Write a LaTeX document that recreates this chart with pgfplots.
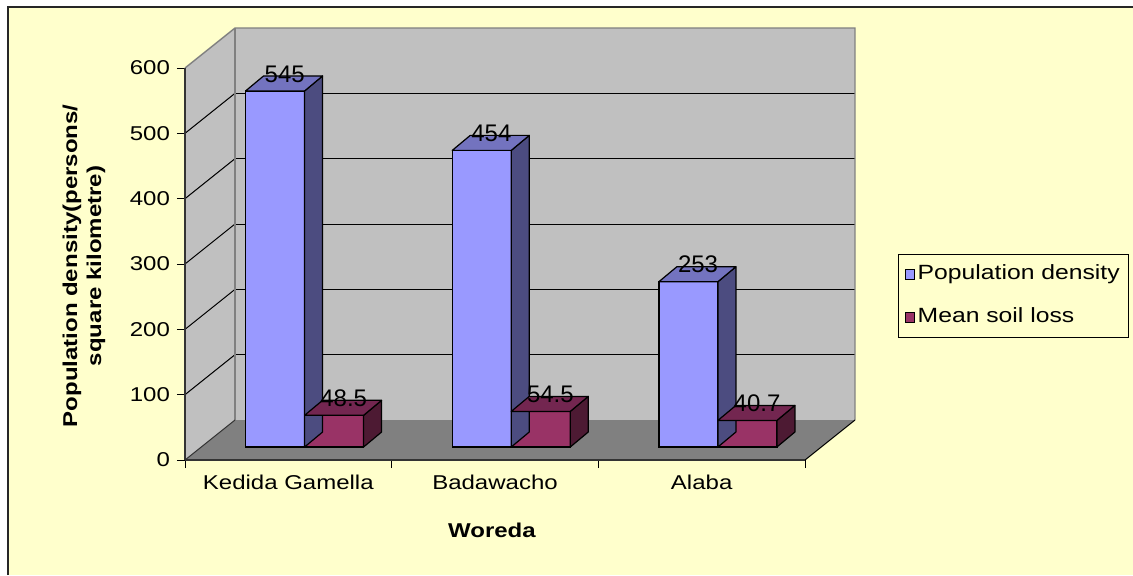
\documentclass[border=0pt]{standalone}
\usepackage{fontspec}
\setmainfont{Liberation Sans}[FakeStretch=1.2]
\newfontfamily\lblfont{Liberation Sans}
\usepackage{pgfplots}
\usepackage{pgfplotstable}
\pgfplotsset{compat=1.18}
\definecolor{bgyellow}{HTML}{FFFFCC}
\definecolor{wallgray}{HTML}{C0C0C0}
\definecolor{floorgray}{HTML}{808080}
\definecolor{bluefront}{HTML}{9999FF}
\definecolor{blueside}{HTML}{4C4C80}
\definecolor{bluetop}{HTML}{7373BF}
\definecolor{redfront}{HTML}{993366}
\definecolor{redside}{HTML}{4D1A33}
\definecolor{redtop}{HTML}{732650}
\pgfdeclareplotmark{none3d}{}
\pgfplotstableread{
x   pop  soil
0.5 545  48.5
1.5 454  54.5
2.5 253  40.7
}\data
\pgfplotsset{
  box3d/.style n args={3}{
    scatter, only marks, mark=none3d,
    visualization depends on={rawy \as \val},
    scatter/@pre marker code/.code={%
      \pgfmathsetmacro\bxh{\val*0.3266667}%
      \filldraw[fill=#2, draw=black, line width=0.6pt, line join=round]
        (#1+14.75pt,0pt) -- ++(9pt,7.5pt) -- ++(0pt,-\bxh pt) -- ++(-9pt,-7.5pt) -- cycle;
      \filldraw[fill=#3, draw=black, line width=0.6pt, line join=round]
        (#1-14.75pt,0pt) -- ++(9pt,7.5pt) -- ++(29.5pt,0pt) -- ++(-9pt,-7.5pt) -- cycle;
      \node[font=\lblfont\fontsize{12}{14}\selectfont, inner sep=0pt, anchor=center] at (#1+4.8pt,8.5pt)
        {\pgfmathprintnumber[assume math mode=true, precision=1]{\val}};
    },
    scatter/@post marker code/.code={},
  }
}
\begin{document}
\begin{tikzpicture}
\useasboundingbox (0,0) rectangle (566.5pt,287.5pt);
\fill[white] (0,0) rectangle (566.5pt,287.5pt);
\fill[bgyellow] (4pt,0pt) rectangle (566.5pt,284pt);
\draw[black!85, line width=0.9pt] (4pt,0pt) -- (4pt,284pt) -- (566.5pt,284pt);
% walls and floor
\fill[wallgray] (92.5pt,57.5pt) -- (92.5pt,253.5pt) -- (117.5pt,273.5pt) -- (117.5pt,77.5pt) -- cycle;
\fill[wallgray] (117.5pt,77.5pt) rectangle (427.5pt,273.5pt);
\fill[floorgray] (92.5pt,57.5pt) -- (402.5pt,57.5pt) -- (427.5pt,77.5pt) -- (117.5pt,77.5pt) -- cycle;
\foreach \k in {1,...,5}{
  \draw[black, line width=0.5pt] (117.5pt,{77.5pt+\k*32.6667pt}) -- (427.5pt,{77.5pt+\k*32.6667pt});
  \draw[black, line width=0.5pt] (92.5pt,{57.5pt+\k*32.6667pt}) -- (117.5pt,{77.5pt+\k*32.6667pt});
}
\draw[floorgray, line width=0.7pt] (92.5pt,253.5pt) -- (117.5pt,273.5pt) -- (427.5pt,273.5pt) -- (427.5pt,77.5pt);
\draw[floorgray, line width=0.7pt] (117.5pt,77.5pt) -- (117.5pt,273.5pt);
\draw[black!80, line width=0.5pt] (92.5pt,57.5pt) -- (117.5pt,77.5pt);
\draw[black, line width=0.5pt] (402.5pt,57.5pt) -- (427.5pt,77.5pt);
% front axis
\begin{axis}[
  at={(92.5pt,57.5pt)}, anchor=south west,
  scale only axis, width=310pt, height=196pt,
  xmin=0, xmax=3, ymin=0, ymax=600,
  axis lines=left,
  axis line style={-, draw=black!80, line width=0.6pt},
  tick style={black, line width=0.5pt},
  tick align=outside, major tick length=4pt,
  xtick={0,1,2,3}, x tick label as interval,
  xticklabels={Kedida Gamella,Badawacho,Alaba},
  ytick={0,100,...,600},
  /pgf/number format/assume math mode=true,
  tick label style={font=\fontsize{10}{12}\selectfont, text=black},
  xlabel={Woreda},
  xlabel style={font=\bfseries\fontsize{10}{12}\selectfont, at={(axis description cs:0.495,-0.179)}, anchor=center},
  ylabel={Population density(persons/\\square kilometre)},
  ylabel style={font=\bfseries\fontsize{10}{12}\selectfont, align=center, at={(axis description cs:-0.163,0.495)}, anchor=center},
]
\addplot[draw=none, forget plot] coordinates {(0,0)};
\end{axis}
% bar plane
\begin{axis}[
  at={(100.625pt,64pt)}, anchor=south west,
  scale only axis, width=310pt, height=196pt,
  xmin=0, xmax=3, ymin=0, ymax=600,
  axis lines=none, clip=false,
  /pgf/number format/assume math mode=true,
  legend style={at={(1.1238,0.4923)}, anchor=north west, draw=black, line width=0.5pt,
    fill=bgyellow, font=\fontsize{10.3}{12}\selectfont, inner xsep=3pt, inner ysep=4pt,
    row sep=9.5pt, nodes={inner sep=1.5pt, text height=7pt, text depth=2pt},
    cells={anchor=west}},
  legend image code/.code={\draw[#1, line width=0.5pt, draw=black] (0pt,-2.3pt) rectangle (4.6pt,2.3pt);},
]
\addplot[ybar, bar width=29.5pt, bar shift=-14.75pt, fill=bluefront, draw=black, line width=0.6pt]
  table[x=x, y=pop] {\data};
\addplot[box3d={-14.75pt}{blueside}{bluetop}, forget plot] table[x=x, y=pop] {\data};
\addplot[ybar, bar width=29.5pt, bar shift=14.75pt, fill=redfront, draw=black, line width=0.6pt]
  table[x=x, y=soil] {\data};
\addplot[box3d={14.75pt}{redside}{redtop}, forget plot] table[x=x, y=soil] {\data};
\legend{Population density, Mean soil loss}
\end{axis}
\end{tikzpicture}
\end{document}
